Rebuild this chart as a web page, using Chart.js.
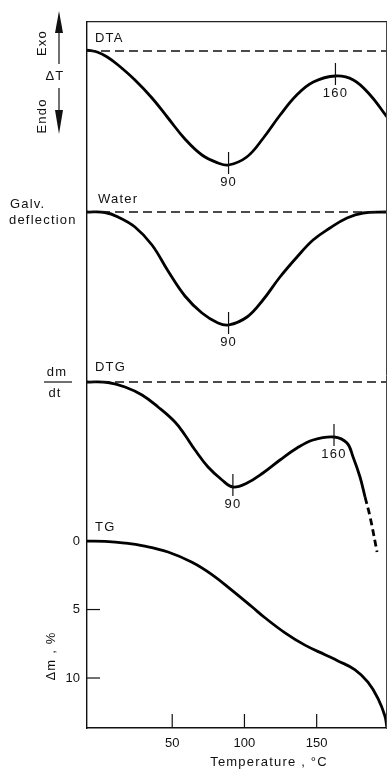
<!DOCTYPE html>
<html>
<head>
<meta charset="utf-8">
<script src="https://cdn.jsdelivr.net/npm/chart.js@4"></script>
<style>
	body { margin: 0; background: #fff; }
	#wrap { width: 387px; height: 772px; position: relative; }
</style>
</head>
<body>
<div id="wrap"><canvas id="myChart"></canvas></div>
<script>
Chart.defaults.color = '#111';
Chart.defaults.font.family = "'Liberation Sans', Arial, sans-serif";
Chart.defaults.font.size = 13;


// DATA
// ================================================================
var xTicks = [50, 100, 150];
var tgTicks = [0, 5, 10];

// DTA, deflection (arbitrary units, 0 = baseline)
var dtaTemp = [-9, -2, 5, 12.5, 24.2, 36, 47.1, 58.8, 70.6, 81.7, 89, 101.6, 113.1, 124.7, 136.2, 147.7, 163, 175.4, 187, 198.7];
var dtaVal  = [0.1, -0.1, -0.6, -1.4, -2.9, -4.7, -6.7, -8.8, -10.4, -11.2, -11.4, -10.6, -8.7, -6.4, -4.4, -3.1, -2.5, -2.9, -4.4, -6.6];

// Water, galvanometer deflection
var waterTemp = [-9, 3.5, 12.5, 24.2, 36, 47.1, 58.8, 70.6, 81.7, 89, 101.8, 112.8, 124.6, 136.4, 147.5, 159.2, 171, 182.1, 198];
var waterVal  = [0, -0.05, -0.5, -1.5, -3.3, -5.9, -8.4, -10.1, -11.1, -11.3, -10.5, -8.8, -6.5, -4.5, -2.8, -1.6, -0.6, -0.1, 0];

// DTG, dm/dt
var dtgTemp = [-9, 5.5, 17.3, 29.1, 40.2, 51.9, 58.8, 65.8, 74.8, 84.5, 92, 101.8, 112.8, 124.6, 136.4, 147.5, 162, 171, 175.2, 180, 183.5];
var dtgVal  = [0, -0.05, -0.5, -1.3, -2.5, -4.0, -5.3, -6.8, -8.5, -9.8, -10.5, -10.1, -9.1, -7.8, -6.6, -5.8, -5.5, -6.1, -7.5, -9.5, -11.5];
var dtgTailTemp = [183.5, 187, 191.8];
var dtgTailVal  = [-11.5, -13.5, -17.0];

// TG, mass loss in %
var tgTemp = [-9, 3.5, 17.3, 30, 47.1, 63.7, 77.5, 91.4, 105.2, 114.2, 128.1, 141.9, 155.8, 164.8, 176.6, 185.5, 192.5, 197.3, 198.7];
var tgVal  = [0, 0.03, 0.15, 0.35, 0.8, 1.55, 2.45, 3.6, 4.8, 5.6, 6.7, 7.6, 8.3, 8.75, 9.4, 10.3, 11.5, 12.8, 13.7];

// marked extrema
var dtaPeaks = [89, 163];
var dtaPeakText = ['90', '160'];
var waterPeaks = [89];
var waterPeakText = ['90'];
var dtgPeaks = [92, 162];
var dtgPeakText = ['90', '160'];


function pts(t, v) {
	return t.map((x, i) => ({ x: x, y: v[i] }));
}

function curve(t, v, axis) {
	return {
		data: pts(t, v),
		yAxisID: axis,
		borderColor: '#000',
		borderWidth: 2.8,
		pointRadius: 0,
		tension: 0.4,
		fill: false
	};
}

function baseline(axis) {
	return {
		data: pts([-9, 198], [0, 0]),
		yAxisID: axis,
		borderColor: '#111',
		borderWidth: 1.3,
		borderDash: [9, 5],
		pointRadius: 0
	};
}

var data = {
	datasets: [
		baseline('yDTA'),
		baseline('yWater'),
		baseline('yDTG'),
		curve(dtaTemp, dtaVal, 'yDTA'),
		curve(waterTemp, waterVal, 'yWater'),
		curve(dtgTemp, dtgVal, 'yDTG'),
		Object.assign(curve(dtgTailTemp, dtgTailVal, 'yDTG'), { borderDash: [7, 4] }),
		curve(tgTemp, tgVal, 'yTG')
	]
};


// Plugins
// ================================================================
var Decor = {
	id: 'decor',
	afterDatasetsDraw(chart) {
		var ctx = chart.ctx, a = chart.chartArea, sx = chart.scales.x;

		function line(x1, y1, x2, y2) {
			ctx.beginPath(); ctx.moveTo(x1, y1); ctx.lineTo(x2, y2); ctx.stroke();
		}
		function text(s, x, y, align, rot) {
			ctx.save();
			ctx.translate(x, y);
			if (rot) ctx.rotate(rot);
			ctx.textAlign = align || 'center';
			ctx.textBaseline = 'middle';
			ctx.fillText(s, 0, 0);
			ctx.restore();
		}
		function lookup(temps, vals, t) {
			return vals[temps.indexOf(t)];
		}

		ctx.save();
		ctx.strokeStyle = '#111';
		ctx.fillStyle = '#111';
		ctx.lineWidth = 1.2;
		ctx.font = "13px 'Liberation Sans', Arial, sans-serif";
		ctx.letterSpacing = '1.2px';

		// inward ticks
		xTicks.forEach(v => {
			var px = sx.getPixelForValue(v);
			line(px, a.bottom, px, a.bottom - 14);
		});
		tgTicks.slice(1).forEach(v => {
			var py = chart.scales.yTG.getPixelForValue(v);
			line(a.left, py, a.left + 13, py);
		});

		// extrema marks
		[[dtaPeaks, dtaPeakText, dtaTemp, dtaVal, 'yDTA'],
		 [waterPeaks, waterPeakText, waterTemp, waterVal, 'yWater'],
		 [dtgPeaks, dtgPeakText, dtgTemp, dtgVal, 'yDTG']].forEach(g => {
			g[0].forEach((t, i) => {
				var px = sx.getPixelForValue(t);
				var py = chart.scales[g[4]].getPixelForValue(lookup(g[2], g[3], t));
				line(px, py - 13, px, py + 9);
				text(g[1][i], px, py + 17);
			});
		});

		// curve names
		var bDTA = chart.scales.yDTA.getPixelForValue(0);
		var bWater = chart.scales.yWater.getPixelForValue(0);
		var bDTG = chart.scales.yDTG.getPixelForValue(0);
		var bTG = chart.scales.yTG.getPixelForValue(0);
		text('DTA', a.left + 8, bDTA - 13, 'left');
		text('Water', a.left + 11, bWater - 13, 'left');
		text('DTG', a.left + 8, bDTG - 15, 'left');
		text('TG', a.left + 8, bTG - 14, 'left');

		// left side captions
		text('Exo', 42, 43, 'center', -Math.PI / 2);
		text('Endo', 42, 116, 'center', -Math.PI / 2);
		text('\u0394T', 55, 76);
		text('Galv.', 10, 204, 'left');
		text('deflection', 9, 220, 'left');
		text('dm', 57, 372);
		text('dt', 55, 393);
		line(44, bDTG, 72, bDTG);
		text('\u0394m , %', 51, 656, 'center', -Math.PI / 2);
		text('Temperature , \u00B0C', 269, 762);

		// Exo / Endo arrows
		ctx.lineWidth = 1.2;
		line(59, 64, 59, 30);
		line(59, 88, 59, 112);
		ctx.beginPath(); ctx.moveTo(59, 11); ctx.lineTo(55, 33); ctx.lineTo(63, 33); ctx.closePath(); ctx.fill();
		ctx.beginPath(); ctx.moveTo(59, 134); ctx.lineTo(55, 110); ctx.lineTo(63, 110); ctx.closePath(); ctx.fill();

		ctx.restore();
	}
};

var Plugins = {
	legend: { display: false },
	tooltip: { enabled: false }
};


// OPTIONS
// ================================================================
var hidden = (min, max) => ({ type: 'linear', display: false, min: min, max: max });

var options = {
	responsive: true,
	maintainAspectRatio: false,
	animation: false,
	layout: { padding: { top: 22, left: 0, right: 0, bottom: 0 } },
	plugins: Plugins,

	scales: {
		x: {
			type: 'linear',
			min: -9,
			max: 198,
			position: 'bottom',
			afterBuildTicks: s => { s.ticks = xTicks.map(v => ({ value: v })); },
			afterFit: s => { s.height = 44; },
			ticks: { padding: 8, maxRotation: 0, font: { size: 13 } },
			grid: { display: false, drawTicks: false },
			border: { color: '#111', width: 1.5 }
		},

		xTop: {
			type: 'linear',
			min: -9,
			max: 198,
			position: 'top',
			afterFit: s => { s.height = 0; },
			ticks: { display: false },
			grid: { display: false, drawTicks: false },
			border: { color: '#222', width: 1.2 }
		},

		yTG: {
			type: 'linear',
			position: 'left',
			reverse: true,
			min: -37.9,
			max: 13.65,
			afterBuildTicks: s => { s.ticks = tgTicks.map(v => ({ value: v })); },
			afterFit: s => { s.width = 87; },
			ticks: { padding: 7, font: { size: 13 } },
			grid: { display: false, drawTicks: false },
			border: { color: '#111', width: 1.4 }
		},

		yRight: {
			type: 'linear',
			position: 'right',
			afterFit: s => { s.width = 1; },
			ticks: { display: false },
			grid: { display: false, drawTicks: false },
			border: { color: '#444', width: 1 }
		},

		yDTA: hidden(-67.7, 2.9),
		yWater: hidden(-51.6, 19.0),
		yDTG: hidden(-34.6, 36.0)
	}
};


// Create the chart
var ctx = document.getElementById('myChart').getContext('2d');
var Render = new Chart(ctx, {
	type: 'line',
	data: data,
	options: options,
	plugins: [Decor]
});
</script>
</body>
</html>
